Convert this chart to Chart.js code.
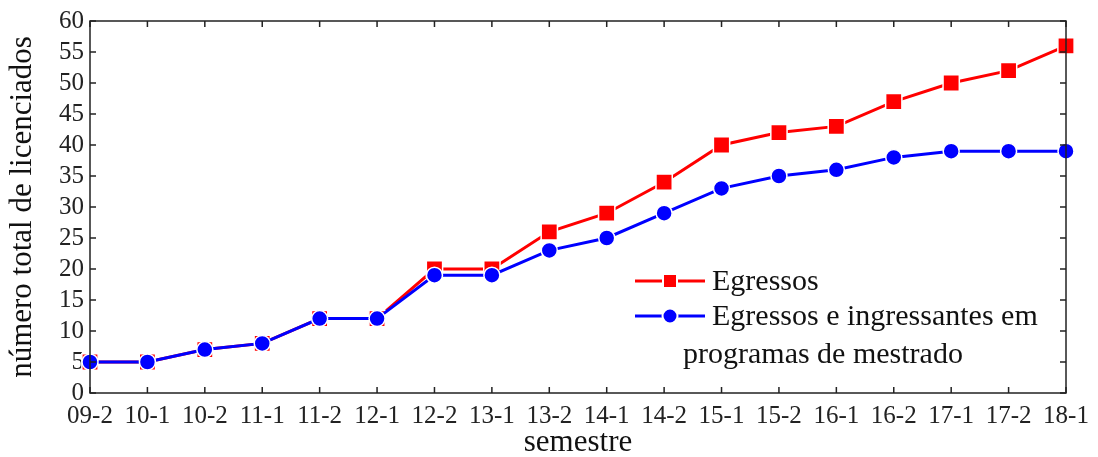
<!DOCTYPE html>
<html>
<head>
<meta charset="utf-8">
<script src="https://cdn.jsdelivr.net/npm/chart.js@4"></script>
<style>
  html, body { margin: 0; padding: 0; background: #fff; }
  #wrap { width: 1098px; height: 457px; }
</style>
</head>
<body>
<div id="wrap"><canvas id="myChart" width="1098" height="457"></canvas></div>
<script>
const semestres = ["09-2","10-1","10-2","11-1","11-2","12-1","12-2","13-1","13-2","14-1","14-2","15-1","15-2","16-1","16-2","17-1","17-2","18-1"]
const egressos = [5, 5, 7, 8, 12, 12, 20, 20, 26, 29, 34, 40, 42, 43, 47, 50, 52, 56]
const egressosMestrado = [5, 5, 7, 8, 12, 12, 19, 19, 23, 25, 29, 33, 35, 36, 38, 39, 39, 39]
const yTicks = [0, 5, 10, 15, 20, 25, 30, 35, 40, 45, 50, 55, 60]

const serif = "'Liberation Serif', 'Times New Roman', serif"

// frame with inward ticks on all four sides
const frameTicks = {
  id: "frameTicks",
  afterDraw(chart) {
    const ctx = chart.ctx
    const a = chart.chartArea
    const x = chart.scales.x, y = chart.scales.y
    const len = 6
    ctx.save()
    ctx.strokeStyle = "#222"
    ctx.lineWidth = 1.5
    ctx.strokeRect(a.left, a.top, a.right - a.left, a.bottom - a.top)
    ctx.beginPath()
    semestres.forEach((s, i) => {
      const px = x.getPixelForValue(i)
      ctx.moveTo(px, a.bottom); ctx.lineTo(px, a.bottom - len)
      ctx.moveTo(px, a.top); ctx.lineTo(px, a.top + len)
    })
    yTicks.forEach(v => {
      const py = y.getPixelForValue(v)
      ctx.moveTo(a.left, py); ctx.lineTo(a.left + len, py)
      ctx.moveTo(a.right, py); ctx.lineTo(a.right - len, py)
    })
    ctx.stroke()
    ctx.restore()
  }
}

// legend drawn inside the plot, like the original figure
const insideLegend = {
  id: "insideLegend",
  afterDraw(chart) {
    const ctx = chart.ctx
    const a = chart.chartArea
    const x0 = a.left + 545, x1 = a.left + 615, tx = a.left + 622
    const rows = [
      { y: a.top + 260, color: "#ff0000", shape: "rect", text: "Egressos" },
      { y: a.top + 295, color: "#0000ff", shape: "circle", text: "Egressos e ingressantes em" }
    ]
    ctx.save()
    ctx.font = "30px " + serif
    ctx.textBaseline = "middle"
    ctx.fillStyle = "#111"
    rows.forEach(r => {
      ctx.strokeStyle = r.color
      ctx.lineWidth = 3
      ctx.beginPath()
      ctx.moveTo(x0, r.y); ctx.lineTo(x1, r.y)
      ctx.stroke()
      const cx = (x0 + x1) / 2
      ctx.fillStyle = r.color
      ctx.strokeStyle = "#fff"
      ctx.lineWidth = 2
      ctx.beginPath()
      if (r.shape === "rect") ctx.rect(cx - 7, r.y - 7, 14, 14)
      else ctx.arc(cx, r.y, 7.5, 0, Math.PI * 2)
      ctx.fill(); ctx.stroke()
      ctx.fillStyle = "#111"
      ctx.fillText(r.text, tx, r.y + 1)
    })
    ctx.fillText("programas de mestrado", a.left + 593, a.top + 334)
    ctx.restore()
  }
}

new Chart("myChart", {
  type: "line",
  data: {
    labels: semestres,
    datasets: [{
      label: "Egressos",
      data: egressos,
      borderColor: "#ff0000",
      backgroundColor: "#ff0000",
      borderWidth: 3,
      pointStyle: "rect",
      pointRadius: 11.5,
      pointBorderColor: "#fff",
      pointBorderWidth: 1.5,
      order: 2
    }, {
      label: "Egressos e ingressantes em programas de mestrado",
      data: egressosMestrado,
      borderColor: "#0000ff",
      backgroundColor: "#0000ff",
      borderWidth: 3,
      pointStyle: "circle",
      pointRadius: 8,
      pointBorderColor: "#fff",
      pointBorderWidth: 1.5,
      order: 1
    }]
  },
  options: {
    responsive: false,
    animation: false,
    layout: { padding: { left: 0, top: 18, right: 32, bottom: 0 } },
    plugins: { legend: { display: false }, tooltip: { enabled: false } },
    scales: {
      x: {
        offset: false,
        grid: { display: false, drawTicks: false },
        border: { display: false },
        ticks: { color: "#222", font: { family: serif, size: 25 }, padding: 8, autoSkip: false, maxRotation: 0 },
        title: { display: true, text: "semestre", color: "#111", font: { family: serif, size: 31 }, padding: { top: 0, bottom: -4 } },
        afterFit(scale) { scale.height = 64 }
      },
      y: {
        min: 0,
        max: 60,
        afterBuildTicks(scale) { scale.ticks = yTicks.map(v => ({ value: v })) },
        grid: { display: false, drawTicks: false },
        border: { display: false },
        ticks: { color: "#222", font: { family: serif, size: 25 }, padding: 6, autoSkip: false },
        title: { display: true, text: "número total de licenciados", color: "#111", font: { family: serif, size: 31 }, padding: { top: 4, bottom: 0 } },
        afterFit(scale) { scale.width = 90 }
      }
    }
  },
  plugins: [frameTicks, insideLegend]
})
</script>
</body>
</html>
